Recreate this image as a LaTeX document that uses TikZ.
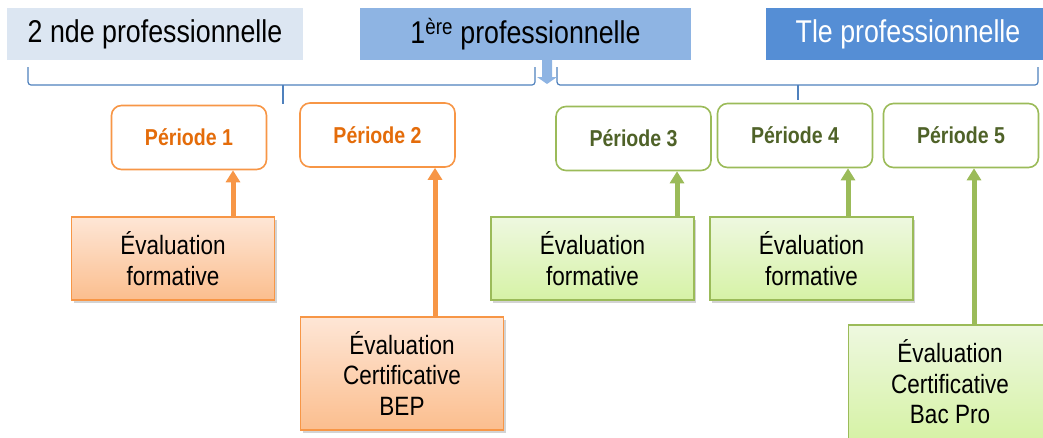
\documentclass[tikz,border=0pt]{standalone}
\usepackage{fontspec}
\setmainfont{Liberation Sans}[FakeStretch=0.85]
\usepackage{tikz}
\usetikzlibrary{positioning,arrows.meta,shadows}

\definecolor{hdone}{HTML}{DCE6F2}
\definecolor{hdtwo}{HTML}{8EB4E3}
\definecolor{hdthree}{HTML}{558ED5}
\definecolor{bracecol}{HTML}{4F81BD}
\definecolor{orline}{HTML}{F79646}
\definecolor{ortext}{HTML}{E46C0A}
\definecolor{ortop}{HTML}{FEE6D6}
\definecolor{orbot}{HTML}{FBBE8E}
\definecolor{grline}{HTML}{9BBB59}
\definecolor{grtext}{HTML}{4F6228}
\definecolor{grtop}{HTML}{EEF8E0}
\definecolor{grbot}{HTML}{D6F2A6}

\tikzset{
  head/.style={minimum height=52pt, inner sep=0pt, font=\fontsize{31.5}{36}\selectfont},
  periode/.style={draw=#1, line width=1.6pt, fill=white, rounded corners=10pt,
    minimum height=64pt, minimum width=155pt, inner sep=0pt,
    font=\fontsize{23}{26}\selectfont\bfseries},
  evalbox/.style={draw=#1line, line width=1.6pt, top color=#1top, bottom color=#1bot,
    drop shadow={opacity=0.35, shadow xshift=2pt, shadow yshift=-3pt},
    minimum width=203pt, inner sep=0pt, align=center,
    font=\fontsize{26.5}{30.5}\selectfont},
  uparrow/.style={draw=#1, line width=5pt, -{Triangle[width=14pt,length=12pt]}},
  brace/.style={draw=bracecol, line width=1.2pt, rounded corners=3pt}
}

\begin{document}
\begin{tikzpicture}[x=1pt, y=-1pt]
		\useasboundingbox (0,0) rectangle (1043,437);
		% Headers
		\node[head, fill=hdone, minimum width=296pt]   (h1) at (155,34)   {2 nde professionnelle};
		\node[head, fill=hdtwo, minimum width=331pt]   (h2) at (525.5,34) {1\textsuperscript{ère} professionnelle};
		\node[head, fill=hdthree, minimum width=284pt, text=white] (h3) at (908,34) {Tle professionnelle};
		% Braces
		\draw[brace] (28,67) -- (28,85) -- (535,85) -- (535,67);
		\draw[bracecol, line width=1.2pt] (283,85) -- (283,104);
		\draw[brace] (557,67) -- (557,85) -- (1038,85) -- (1038,67);
		\draw[bracecol, line width=1.2pt] (798,85) -- (798,100);
		\fill[hdtwo] (542,60) -- (552,60) -- (552,77) -- (557,77) -- (547,84) -- (537,77) -- (542,77) -- cycle;
		% Periods
		\node[periode=orline, text=ortext] (p1) at (189,137.5) {Période 1};
		\node[periode=orline, text=ortext] (p2) at (377.5,135) {Période 2};
		\node[periode=grline, text=grtext] (p3) at (633.5,138.5) {Période 3};
		\node[periode=grline, text=grtext] (p4) at (795,135.5) {Période 4};
		\node[periode=grline, text=grtext] (p5) at (961,135.5) {Période 5};
		% Evaluations
		\node[evalbox=or, minimum height=83pt]  (e1) at (173,258.5) {Évaluation\\formative};
		\node[evalbox=or, minimum height=113pt] (e2) at (402,373.5) {Évaluation\\Certificative\\BEP};
		\node[evalbox=gr, minimum height=83pt]  (e3) at (592.5,258.5) {Évaluation\\formative};
		\node[evalbox=gr, minimum height=83pt]  (e4) at (811.5,258.5) {Évaluation\\formative};
		\node[evalbox=gr, minimum height=114pt] (e5) at (950,382) {Évaluation\\Certificative\\Bac Pro};
		% Arrows
		\coordinate (a1) at (233,0);
		\coordinate (a2) at (435,0);
		\coordinate (a3) at (677,0);
		\coordinate (a4) at (848,0);
		\coordinate (a5) at (974,0);
		\draw[uparrow=orline] (e1.north -| a1) -- (p1.south -| a1);
		\draw[uparrow=orline] (e2.north -| a2) -- (p2.south -| a2);
		\draw[uparrow=grline] (e3.north -| a3) -- (p3.south -| a3);
		\draw[uparrow=grline] (e4.north -| a4) -- (p4.south -| a4);
		\draw[uparrow=grline] (e5.north -| a5) -- (p5.south -| a5);
	\end{tikzpicture}
\end{document}
